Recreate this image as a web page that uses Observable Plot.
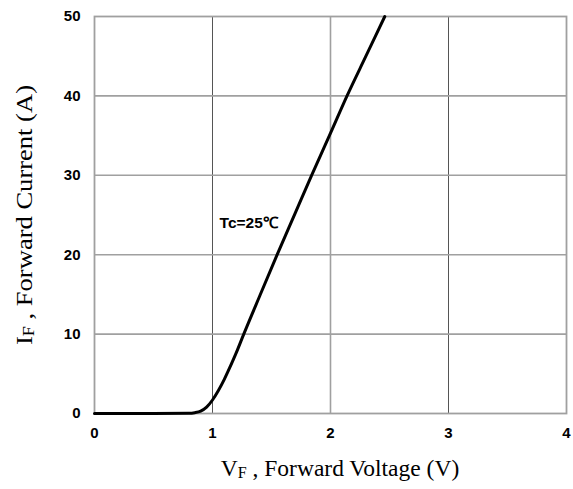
<!DOCTYPE html>
<html>
<head>
<meta charset="utf-8">
<script src="https://cdn.jsdelivr.net/npm/d3@7"></script>
<script src="https://cdn.jsdelivr.net/npm/@observablehq/plot@0.6"></script>
<style>
  html, body { margin: 0; padding: 0; background: #fff; }
  #chart svg { display: block; overflow: visible; }
</style>
</head>
<body>
<div id="chart"></div>
<script>
// Forward voltage (V) and forward current (A)
const vf = [0, 0.5, 0.8, 0.85, 0.9, 0.95, 1.0, 1.05, 1.1, 1.15, 1.2, 1.265, 1.4, 1.548, 1.7, 1.84, 2.0, 2.14, 2.3, 2.46];
const iF = [0, 0, 0.02, 0.1, 0.3, 0.8, 1.7, 2.9, 4.3, 5.9, 7.6, 10, 14.8, 20, 25.2, 30, 35.3, 40, 45, 50];
const xTicks = [0, 1, 2, 3, 4];
const yTicks = [0, 10, 20, 30, 40, 50];
const xLabelMain = "V";
const xLabelSub = "F";
const xLabelRest = " , Forward Voltage (V)";
const yLabelMain = "I";
const yLabelSub = "F";
const yLabelRest = " , Forward Current (A)";
const annotation = [{v: 1.06, i: 24, text: "Tc=25℃"}];

const data = vf.map((v, k) => ({v, i: iF[k]}));

const W = 573, H = 489;
const chart = Plot.plot({
  width: W,
  height: H,
  marginLeft: 94,
  marginRight: 7,
  marginTop: 16,
  marginBottom: 76,
  style: {fontFamily: "Liberation Sans, Arial, sans-serif", background: "#fff", overflow: "visible"},
  x: {domain: [0, 4], ticks: xTicks, label: null},
  y: {domain: [0, 50], ticks: yTicks, label: null},
  marks: [
    Plot.ruleX([2], {stroke: "#a0a0a0", strokeWidth: 1.6}),
    Plot.ruleX([1, 3], {stroke: "#555", strokeWidth: 1}),
    Plot.ruleY([10, 20, 30, 40], {stroke: "#a0a0a0", strokeWidth: 1.6}),
    Plot.frame({stroke: "#a0a0a0", strokeWidth: 1.8}),
    Plot.axisX({ticks: xTicks, tickFormat: "d", tickSize: 0, tickPadding: 14, fontSize: 15, fontWeight: "bold", fill: "#000", label: null}),
    Plot.axisY({ticks: yTicks, tickFormat: "d", tickSize: 0, tickPadding: 14, fontSize: 15, fontWeight: "bold", fill: "#000", label: null}),
    Plot.line(data, {x: "v", y: "i", stroke: "#000", strokeWidth: 3, curve: "monotone-x"}),
    Plot.text(annotation, {x: "v", y: "i", text: "text", textAnchor: "start", fontSize: 15.5, fontWeight: "bold", fill: "#000"})
  ]
});
document.getElementById("chart").appendChild(chart);

// Axis titles with subscripts
const svg = d3.select(chart);
const serif = "Liberation Serif, Times New Roman, serif";
const xt = svg.append("text")
  .attr("x", 340).attr("y", 476)
  .attr("text-anchor", "middle")
  .attr("font-family", serif).attr("font-size", 23.5).attr("fill", "#000");
xt.append("tspan").text(xLabelMain);
xt.append("tspan").attr("font-size", 16).attr("dy", 2).text(xLabelSub);
xt.append("tspan").attr("dy", -2).text(xLabelRest);

const yt = svg.append("text")
  .attr("transform", "translate(32,215) rotate(-90) scale(1.13,1)")
  .attr("text-anchor", "middle")
  .attr("font-family", serif).attr("font-size", 23.5).attr("fill", "#000");
yt.append("tspan").text(yLabelMain);
yt.append("tspan").attr("font-size", 16).attr("dy", 2).text(yLabelSub);
yt.append("tspan").attr("dy", -2).text(yLabelRest);
</script>
</body>
</html>
